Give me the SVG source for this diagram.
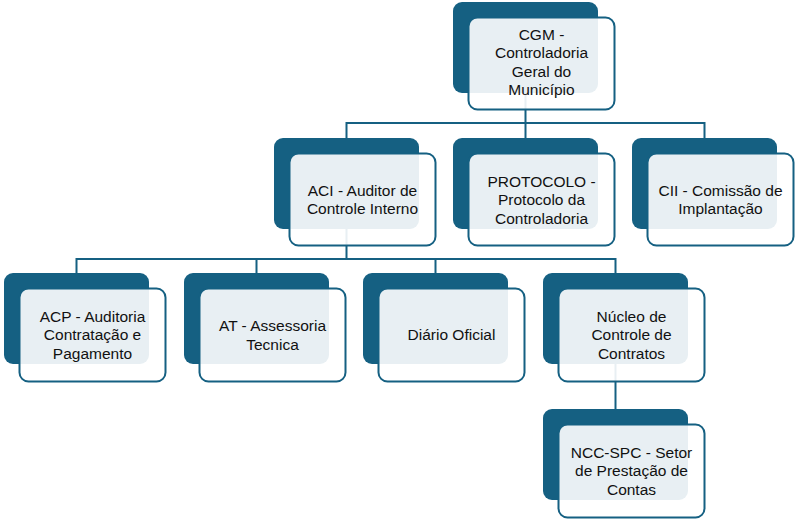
<svg xmlns="http://www.w3.org/2000/svg" width="798" height="519" viewBox="0 0 798 519">
<style>
.bk{fill:#156082;}
.fr{fill:#ffffff;fill-opacity:0.9;stroke:#156082;stroke-width:2;}
.tx{font-family:"Liberation Sans","Noto Sans",Arial,sans-serif;font-size:15.5px;fill:#111111;text-anchor:middle;}
.cn{fill:none;stroke:#156082;stroke-width:2;}
</style>
<rect width="798" height="519" fill="#ffffff"/>
<g id="connectors">
<path class="cn" d="M525.5,93 V123 M346.5,138 V123 H704.5 V138 M525.5,123 V138"/>
<path class="cn" d="M346.5,229 V259 M76.5,273 V259 H615.5 V273 M256.5,259 V273 M435.5,259 V273"/>
<path class="cn" d="M615.5,364 V409"/>
</g>
<g id="cgm">
<rect class="bk" x="453" y="2" width="145" height="91" rx="9"/>
<rect class="fr" x="468.5" y="17.5" width="146" height="92" rx="9"/>
<text class="tx"><tspan x="541.5" y="39.5">CGM -</tspan><tspan x="541.5" y="58">Controladoria</tspan><tspan x="541.5" y="76.5">Geral do</tspan><tspan x="541.5" y="95">Município</tspan></text>
</g>
<g id="aci">
<rect class="bk" x="274" y="138" width="145" height="91" rx="9"/>
<rect class="fr" x="289.5" y="153.5" width="146" height="92" rx="9"/>
<text class="tx"><tspan x="362.5" y="195.5">ACI - Auditor de</tspan><tspan x="362.5" y="214">Controle Interno</tspan></text>
</g>
<g id="protocolo">
<rect class="bk" x="453" y="138" width="145" height="91" rx="9"/>
<rect class="fr" x="468.5" y="153.5" width="146" height="92" rx="9"/>
<text class="tx"><tspan x="541.5" y="186.5">PROTOCOLO -</tspan><tspan x="541.5" y="205">Protocolo da</tspan><tspan x="541.5" y="223.5">Controladoria</tspan></text>
</g>
<g id="cii">
<rect class="bk" x="632" y="138" width="145" height="91" rx="9"/>
<rect class="fr" x="647.5" y="153.5" width="146" height="92" rx="9"/>
<text class="tx"><tspan x="720.5" y="195.5">CII - Comissão de</tspan><tspan x="720.5" y="214">Implantação</tspan></text>
</g>
<g id="acp">
<rect class="bk" x="4" y="273" width="145" height="91" rx="9"/>
<rect class="fr" x="19.5" y="288.5" width="146" height="93" rx="9"/>
<text class="tx"><tspan x="92.5" y="321.5">ACP - Auditoria</tspan><tspan x="92.5" y="340">Contratação e</tspan><tspan x="92.5" y="358.5">Pagamento</tspan></text>
</g>
<g id="at">
<rect class="bk" x="184" y="273" width="145" height="91" rx="9"/>
<rect class="fr" x="199.5" y="288.5" width="146" height="93" rx="9"/>
<text class="tx"><tspan x="272.5" y="331">AT - Assessoria</tspan><tspan x="272.5" y="349.5">Tecnica</tspan></text>
</g>
<g id="diario">
<rect class="bk" x="363" y="273" width="145" height="91" rx="9"/>
<rect class="fr" x="378.5" y="288.5" width="146" height="93" rx="9"/>
<text class="tx" x="451.5" y="340">Diário Oficial</text>
</g>
<g id="nucleo">
<rect class="bk" x="543" y="273" width="145" height="91" rx="9"/>
<rect class="fr" x="558.5" y="288.5" width="146" height="93" rx="9"/>
<text class="tx"><tspan x="631.5" y="321.5">Núcleo de</tspan><tspan x="631.5" y="340">Controle de</tspan><tspan x="631.5" y="358.5">Contratos</tspan></text>
</g>
<g id="ncc-spc">
<rect class="bk" x="543" y="409" width="145" height="91" rx="9"/>
<rect class="fr" x="558.5" y="424.5" width="146" height="93" rx="9"/>
<text class="tx"><tspan x="631.5" y="457.5">NCC-SPC - Setor</tspan><tspan x="631.5" y="476">de Prestação de</tspan><tspan x="631.5" y="494.5">Contas</tspan></text>
</g>
</svg>
